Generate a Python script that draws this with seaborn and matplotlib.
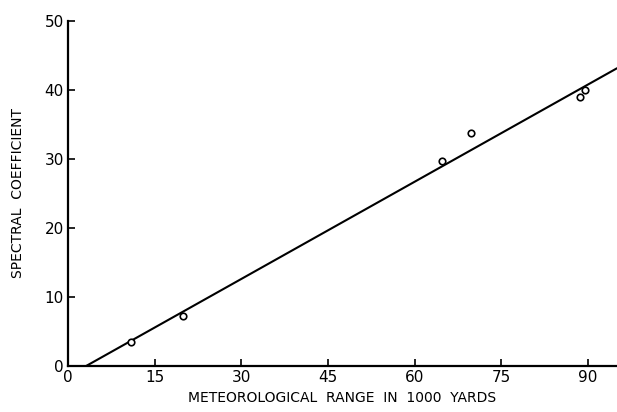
import numpy as np
import pandas as pd
import matplotlib
matplotlib.use('Agg')
import matplotlib.pyplot as plt
import seaborn as sns

# observed points (meteorological range in 1000 yards vs spectral coefficient)
met_range = [11.0, 20.0, 64.7, 69.7, 88.6, 89.5]
spectral_coef = [3.5, 7.2, 29.6, 33.7, 38.9, 40.0]

# fitted straight line
fit_x = [3.2, 95.0]
fit_y = [0.0, 43.1]

x_ticks = [0, 15, 30, 45, 60, 75, 90]
y_ticks = [0, 10, 20, 30, 40, 50]

sns.set_style('white')
plt.rcParams['font.family'] = ['DejaVu Sans']
plt.rcParams['text.color'] = 'black'
plt.rcParams['axes.labelcolor'] = 'black'
plt.rcParams['xtick.color'] = 'black'
plt.rcParams['ytick.color'] = 'black'

pts = pd.DataFrame({'range': met_range, 'coef': spectral_coef})
fit = pd.DataFrame({'range': fit_x, 'coef': fit_y})

fig = plt.figure(figsize=(6.17, 4.12), dpi=100)
ax = fig.add_axes([0.110, 0.112, 0.89, 0.838])

sns.lineplot(data=fit, x='range', y='coef', color='black', linewidth=1.5, ax=ax)
sns.scatterplot(data=pts, x='range', y='coef', marker='o', s=22,
                facecolor='white', edgecolor='black', linewidth=1.2, ax=ax, zorder=3)

ax.set_xlim(0, 95)
ax.set_ylim(0, 50)
ax.set_xticks(x_ticks)
ax.set_yticks(y_ticks)
ax.tick_params(bottom=True, left=True, direction='in', length=5, width=1.2,
               labelsize=11, pad=3, colors='black')
sns.despine(ax=ax)
for s in ['left', 'bottom']:
    ax.spines[s].set_linewidth(1.6)
    ax.spines[s].set_color('black')

ax.set_xlabel('METEOROLOGICAL  RANGE  IN  1000  YARDS', fontsize=10, labelpad=4)
ax.set_ylabel('SPECTRAL  COEFFICIENT', fontsize=10, labelpad=14)

plt.savefig('out.png', dpi=100)
